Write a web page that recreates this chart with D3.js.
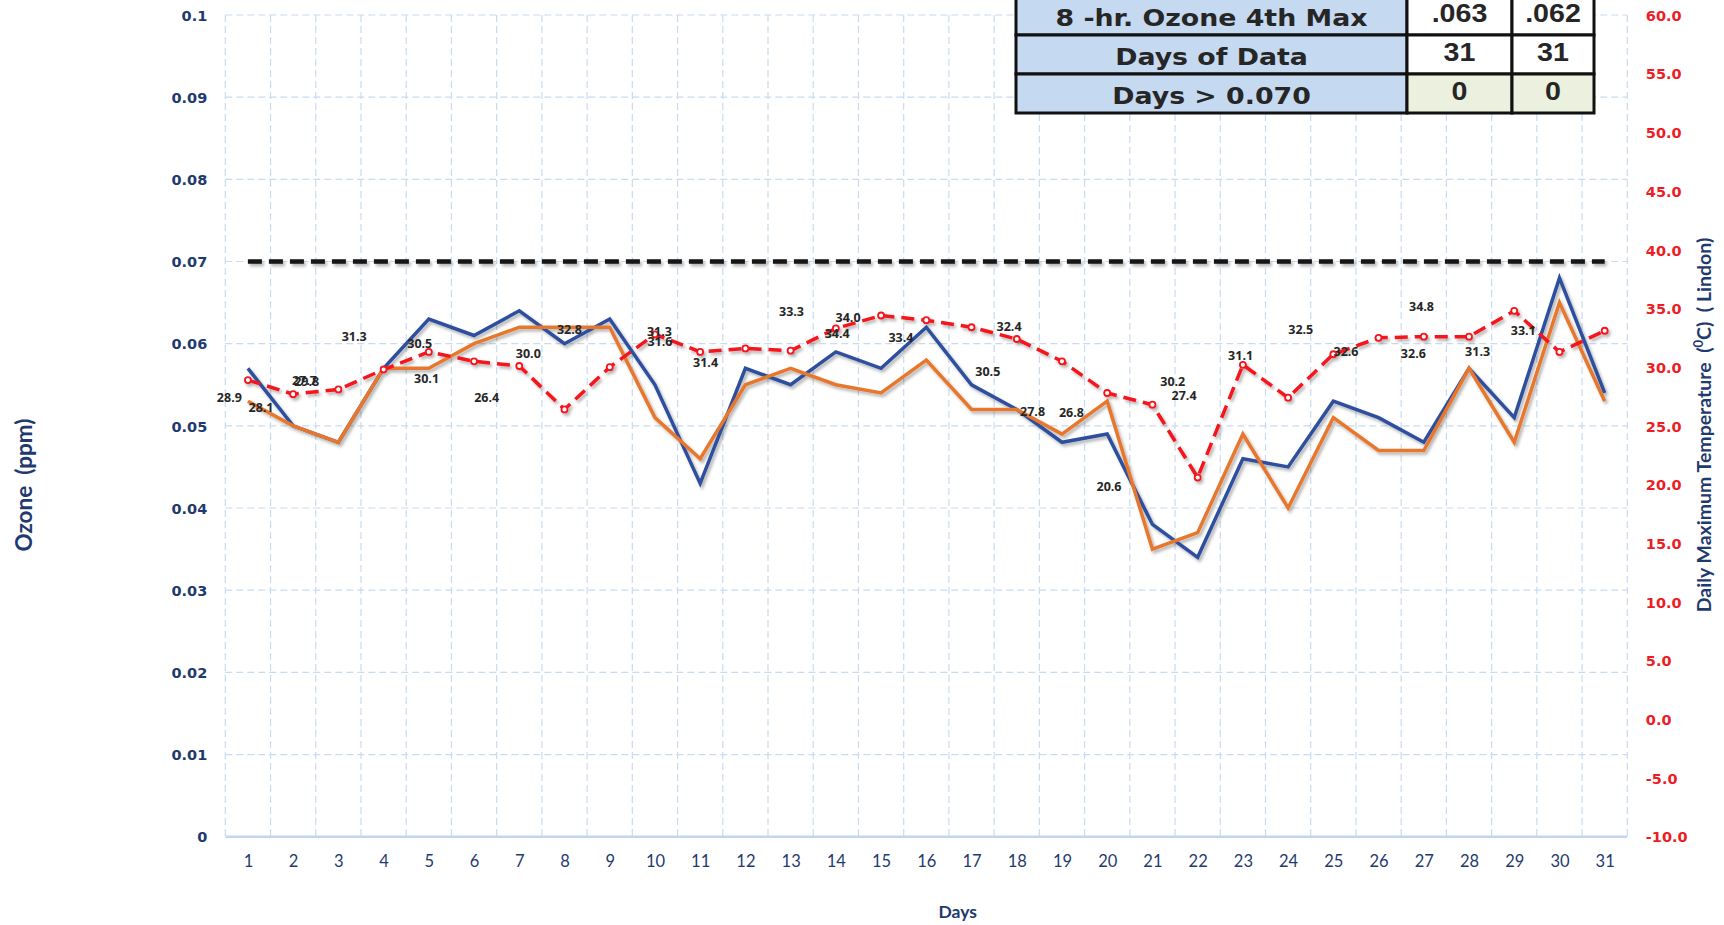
<!DOCTYPE html>
<html>
<head>
<meta charset="utf-8">
<script src="https://cdn.jsdelivr.net/npm/d3@7"></script>
<style>
  body { margin: 0; background: #fff; }
  svg { display: block; }
</style>
</head>
<body>
<svg id="chart" width="1724" height="925"></svg>
<script>
var days = [1, 2, 3, 4, 5, 6, 7, 8, 9, 10, 11, 12, 13, 14, 15, 16, 17, 18, 19, 20, 21, 22, 23, 24, 25, 26, 27, 28, 29, 30, 31];

// 8-hr ozone, ppm (blue and orange monitors)
var ozoneSite1 = [0.057, 0.050, 0.048, 0.057, 0.063, 0.061, 0.064, 0.060, 0.063, 0.055, 0.043, 0.057, 0.055, 0.059, 0.057, 0.062,
  0.055, 0.052, 0.048, 0.049, 0.038, 0.034, 0.046, 0.045, 0.053, 0.051, 0.048, 0.057, 0.051, 0.068, 0.054];
var ozoneSite2 = [0.053, 0.050, 0.048, 0.057, 0.057, 0.060, 0.062, 0.062, 0.062, 0.051, 0.046, 0.055, 0.057, 0.055, 0.054, 0.058,
  0.052, 0.052, 0.049, 0.053, 0.035, 0.037, 0.049, 0.040, 0.051, 0.047, 0.047, 0.057, 0.048, 0.065, 0.053];

// daily max temperature, C
var maxTemp = [28.9, 27.7, 28.1, 29.8, 31.3, 30.5, 30.1, 26.4, 30.0, 32.8, 31.3, 31.6, 31.4, 33.3, 34.4, 34.0,
  33.4, 32.4, 30.5, 27.8, 26.8, 20.6, 30.2, 27.4, 31.1, 32.5, 32.6, 32.6, 34.8, 31.3, 33.1];

// where the temperature labels were left sitting (day, temperature units)
var labelDay = [0.59, 2.25, 1.29, 2.30, 3.35, 4.80, 4.95, 6.28, 7.20, 8.11, 10.10, 10.11, 11.12, 13.02, 14.03, 14.27,
  15.44, 17.83, 17.36, 18.35, 19.21, 20.04, 21.45, 21.70, 22.95, 24.28, 25.28, 26.77, 26.95, 28.19, 29.20];
var labelTemp = [27.4, 28.9, 26.6, 28.8, 32.6, 32.0, 29.0, 27.4, 31.2, 33.2, 33.0, 32.2, 30.4, 34.7, 32.9, 34.2,
  32.5, 33.5, 29.6, 26.2, 26.1, 19.8, 28.8, 27.6, 31.0, 33.2, 31.3, 31.2, 35.2, 31.3, 33.1];

var standardLevel = 0.070;
var ozoneTicks = [0, 0.01, 0.02, 0.03, 0.04, 0.05, 0.06, 0.07, 0.08, 0.09, 0.1];
var tempTicks = [-10, -5, 0, 5, 10, 15, 20, 25, 30, 35, 40, 45, 50, 55, 60];
var tableRows = ["8 -hr. Ozone 4th Max", "Days of Data", "Days > 0.070"];

var navy = "#1f3a6e";
var gridColor = "#c9dbf0";
var svg = d3.select("#chart");
var plot = {left: 225.3, right: 1627.3, top: 15, bottom: 836.7};

var x = d3.scaleLinear().domain([0.5, days.length + 0.5]).range([plot.left, plot.right]);
var y = d3.scaleLinear().domain([0, 0.1]).range([plot.bottom, plot.top]);
var yTemp = d3.scaleLinear().domain([-10, 60]).range([plot.bottom, plot.top]);

var defs = svg.append("defs");
defs.append("filter")
  .attr("id", "shadow")
  .attr("filterUnits", "userSpaceOnUse")
  .attr("x", 0).attr("y", 0).attr("width", 1724).attr("height", 925)
  .append("feDropShadow")
  .attr("dx", 2).attr("dy", 2.5).attr("stdDeviation", 1.6)
  .attr("flood-color", "#000").attr("flood-opacity", 0.3);

// gridlines
var grid = svg.append("g").attr("class", "grid");
grid.selectAll("line.h")
  .data(ozoneTicks.slice(1))
  .enter().append("line")
  .attr("class", "h")
  .attr("x1", plot.left).attr("x2", plot.right)
  .attr("y1", function(d) { return y(d); })
  .attr("y2", function(d) { return y(d); });
grid.selectAll("line.v")
  .data(days.map(function(d) { return d - 0.5; }).concat([days.length + 0.5]))
  .enter().append("line")
  .attr("class", "v")
  .attr("x1", function(d) { return x(d); })
  .attr("x2", function(d) { return x(d); })
  .attr("y1", plot.top).attr("y2", plot.bottom);
grid.selectAll("line")
  .attr("stroke", gridColor)
  .attr("stroke-width", 1.2)
  .attr("stroke-dasharray", "7,4");

svg.append("line")
  .attr("x1", plot.left).attr("x2", plot.right)
  .attr("y1", y(0)).attr("y2", y(0))
  .attr("stroke", "#c3d6ee")
  .attr("stroke-width", 2.5);

// axes
var xAxis = svg.append("g")
  .attr("transform", "translate(0," + plot.bottom + ")")
  .call(d3.axisBottom(x).tickValues(days).tickFormat(d3.format("d")).tickSize(0).tickPadding(18.5));
var yAxis = svg.append("g")
  .attr("transform", "translate(" + plot.left + ",0)")
  .call(d3.axisLeft(y).tickValues(ozoneTicks).tickFormat(function(d) { return d === 0 ? "0" : String(+d.toFixed(2)); })
    .tickSize(0).tickPadding(18));
var yAxisRight = svg.append("g")
  .attr("transform", "translate(" + plot.right + ",0)")
  .call(d3.axisRight(yTemp).tickValues(tempTicks).tickFormat(function(d) { return d.toFixed(1); })
    .tickSize(0).tickPadding(18.5));

[xAxis, yAxis, yAxisRight].forEach(function(a) { a.select(".domain").remove(); });
xAxis.selectAll("text")
  .attr("fill", navy)
  .style("font-family", "Lato, 'Open Sans', sans-serif")
  .style("font-size", "16.5px");
yAxis.selectAll("text")
  .attr("fill", navy)
  .attr("dy", "0.36em")
  .style("font-family", "'DejaVu Sans', sans-serif")
  .style("font-weight", "bold")
  .style("font-size", "14.5px");
yAxisRight.selectAll("text")
  .attr("fill", "#ee1c25")
  .attr("dy", "0.36em")
  .style("font-family", "'DejaVu Sans', sans-serif")
  .style("font-weight", "bold")
  .style("font-size", "14.5px");

// series
function ozoneLine() {
  return d3.line()
    .x(function(d, i) { return x(days[i]); })
    .y(function(d) { return y(d); });
}

var series = svg.append("g").attr("filter", "url(#shadow)");

series.append("path")
  .datum(days.map(function() { return standardLevel; }))
  .attr("d", ozoneLine())
  .attr("fill", "none")
  .attr("stroke", "#151515")
  .attr("stroke-width", 4.5)
  .attr("stroke-dasharray", "14,7");

series.append("path")
  .datum(ozoneSite1)
  .attr("d", ozoneLine())
  .attr("fill", "none")
  .attr("stroke", "#2e4f9e")
  .attr("stroke-width", 3.5)
  .attr("stroke-linejoin", "miter");

series.append("path")
  .datum(ozoneSite2)
  .attr("d", ozoneLine())
  .attr("fill", "none")
  .attr("stroke", "#e8772e")
  .attr("stroke-width", 3.5)
  .attr("stroke-linejoin", "miter");

var tempLine = d3.line()
  .x(function(d, i) { return x(days[i]); })
  .y(function(d) { return yTemp(d); });

series.append("path")
  .datum(maxTemp)
  .attr("d", tempLine)
  .attr("fill", "none")
  .attr("stroke", "#f5141e")
  .attr("stroke-width", 3.5)
  .attr("stroke-dasharray", "13,7");

series.selectAll("circle")
  .data(maxTemp)
  .enter().append("circle")
  .attr("cx", function(d, i) { return x(days[i]); })
  .attr("cy", function(d) { return yTemp(d); })
  .attr("r", 3)
  .attr("fill", "#fff")
  .attr("stroke", "#f5141e")
  .attr("stroke-width", 1.8);

svg.append("g").selectAll("text")
  .data(maxTemp)
  .enter().append("text")
  .attr("x", function(d, i) { return x(labelDay[i]); })
  .attr("y", function(d, i) { return yTemp(labelTemp[i]); })
  .attr("dy", "0.36em")
  .attr("text-anchor", "middle")
  .attr("fill", "#262626")
  .style("font-family", "'Open Sans', sans-serif")
  .style("font-weight", "bold")
  .style("font-size", "12.5px")
  .text(function(d) { return d.toFixed(1); });

// summary table
function summary(vals) {
  return [
    d3.format(".3f")(d3.sort(vals, d3.descending)[3]).replace(/^0/, ""),
    String(vals.length),
    String(vals.filter(function(v) { return v > standardLevel; }).length)
  ];
}
var tableCols = [tableRows, summary(ozoneSite1), summary(ozoneSite2)];
var colEdges = [1016, 1407, 1512, 1594];
var rowBand = d3.scaleBand().domain(d3.range(tableRows.length)).range([-4, 113]);

var table = svg.append("g").attr("class", "table");
tableCols.forEach(function(col, c) {
  var cells = table.selectAll("g.c" + c)
    .data(col)
    .enter().append("g")
    .attr("class", "c" + c);
  cells.append("rect")
    .attr("x", colEdges[c])
    .attr("y", function(d, r) { return rowBand(r); })
    .attr("width", colEdges[c + 1] - colEdges[c])
    .attr("height", rowBand.bandwidth())
    .attr("fill", function(d, r) { return c === 0 ? "#c5d9f1" : (r === 2 ? "#ebf1de" : "#fff"); })
    .attr("stroke", "#111")
    .attr("stroke-width", 3);
  cells.append("text")
    .attr("transform", function(d, r) {
      var cx = (colEdges[c] + colEdges[c + 1]) / 2;
      var cy = rowBand(r) + rowBand.bandwidth() / 2 + (c === 0 ? 2 : -2.5);
      return "translate(" + cx + "," + cy + ") scale(" + (c === 0 ? 1.19 : 1.1) + ",1)";
    })
    .attr("dy", "0.36em")
    .attr("text-anchor", "middle")
    .attr("fill", "#262626")
    .style("font-family", c === 0 ? "'DejaVu Sans', sans-serif" : "'Liberation Sans', Arial, sans-serif")
    .style("font-weight", "bold")
    .style("font-size", c === 0 ? "22.5px" : "26px")
    .text(function(d) { return d; });
});

// axis titles
svg.append("text")
  .attr("transform", "translate(24,485) rotate(-90)")
  .attr("dy", "0.36em")
  .attr("text-anchor", "middle")
  .attr("fill", navy)
  .style("font-family", "Lato, sans-serif")
  .style("font-weight", "bold")
  .style("font-size", "22.5px")
  .style("white-space", "pre")
  .text("Ozone  (ppm)");

var rightTitle = svg.append("text")
  .attr("transform", "translate(1704,425) rotate(-90)")
  .attr("dy", "0.36em")
  .attr("text-anchor", "middle")
  .attr("fill", navy)
  .style("font-family", "Lato, sans-serif")
  .style("font-weight", "bold")
  .style("font-size", "19.5px")
  .style("white-space", "pre");
rightTitle.append("tspan").text("Daily Maximum Temperature  (");
rightTitle.append("tspan").attr("baseline-shift", "super").style("font-size", "13px").text("0");
rightTitle.append("tspan").text("C)  ( Lindon)");

svg.append("text")
  .attr("x", 957.7)
  .attr("y", 911.5)
  .attr("dy", "0.36em")
  .attr("text-anchor", "middle")
  .attr("fill", navy)
  .style("font-family", "Lato, sans-serif")
  .style("font-weight", "bold")
  .style("font-size", "17.5px")
  .text("Days");
</script>
</body>
</html>
